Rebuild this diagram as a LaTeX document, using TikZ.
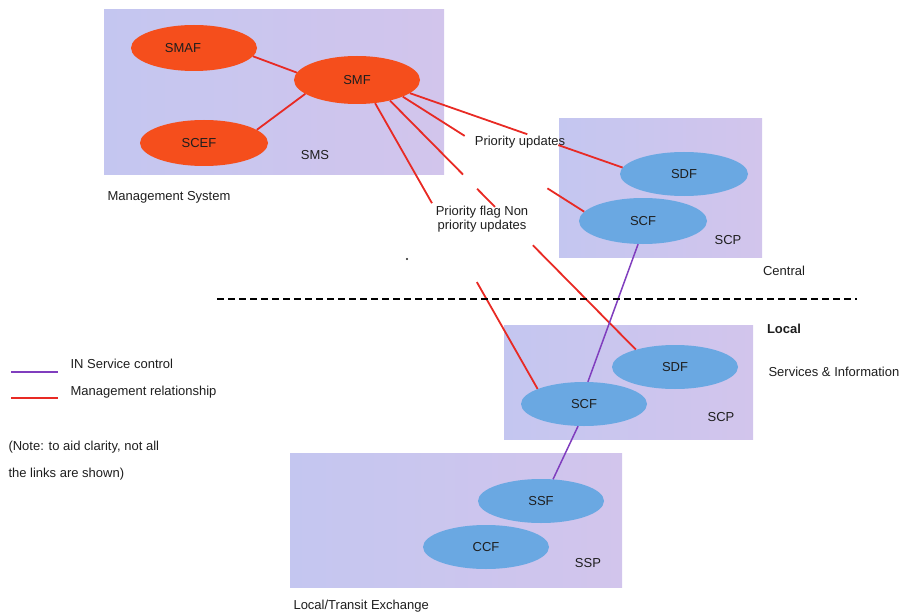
\documentclass[tikz,border=0pt]{standalone}
\usepackage{fontspec}
\setmainfont{Liberation Sans}
\usetikzlibrary{shapes.geometric,calc}

\definecolor{boxfillA}{RGB}{196,198,240}
\definecolor{boxfillB}{RGB}{210,197,236}
\definecolor{mgmtorange}{RGB}{245,78,28}
\definecolor{netblue}{RGB}{106,168,226}
\definecolor{mgmtred}{RGB}{232,42,36}
\definecolor{ctrlpurple}{RGB}{128,62,190}
\definecolor{labelgray}{RGB}{30,30,30}

\tikzset{
  every node/.style={font=\fontsize{13}{15}\selectfont, text=labelgray},
  areabox/.style={left color=boxfillA, right color=boxfillB, draw=none},
  fnorange/.style={ellipse, fill=mgmtorange, draw=none, inner sep=0pt},
  fnblue/.style={ellipse, fill=netblue, draw=none, inner sep=0pt},
  mgmtlink/.style={draw=mgmtred, line width=1.8pt},
  ctrllink/.style={draw=ctrlpurple, line width=1.5pt},
  boundary/.style={draw=black, line width=2pt, dash pattern=on 7pt off 4pt},
}

\begin{document}
\begin{tikzpicture}[x=1pt, y=-1pt]
\useasboundingbox (0,0) rectangle (908,615);

% areas
\fill[areabox] (104,10) rectangle (444,175);
\fill[areabox] (559,119) rectangle (762,257);
\fill[areabox] (504,325) rectangle (753,439);
\fill[areabox] (290,453) rectangle (622,587);

% management system functions
\node[fnorange, minimum width=126pt, minimum height=46pt] (smaf) at (194,48) {SMAF\hspace*{22pt}};
\node[fnorange, minimum width=126pt, minimum height=48pt] (smf) at (357,80) {SMF};
\node[fnorange, minimum width=128pt, minimum height=46pt] (scef) at (204,143) {SCEF\hspace*{10pt}};

% central SCP functions
\node[fnblue, minimum width=128pt, minimum height=44pt] (sdfC) at (684,174) {SDF};
\node[fnblue, minimum width=128pt, minimum height=46pt] (scfC) at (643,221) {SCF};

% local SCP functions
\node[fnblue, minimum width=126pt, minimum height=44pt] (sdfL) at (675,367) {SDF};
\node[fnblue, minimum width=126pt, minimum height=44pt] (scfL) at (584,404) {SCF};

% SSP functions
\node[fnblue, minimum width=126pt, minimum height=44pt] (ssf) at (541,501) {SSF};
\node[fnblue, minimum width=126pt, minimum height=44pt] (ccf) at (486,547) {CCF};

% area labels
\node (smsLbl) at (315,155) {SMS};
\node[anchor=west] (mgmtLbl) at (104,197) {Management System};
\node (scpCLbl) at (728,240) {SCP};
\node (centralLbl) at (784,271) {Central};
\node (localLbl) at (784,329) {\bfseries Local};
\node[anchor=west] (servLbl) at (765,372) {Services \& Information};
\node (scpLLbl) at (721,417) {SCP};
\node (sspLbl) at (588,563) {SSP};
\node[anchor=west] (exchLbl) at (290,606) {Local/Transit Exchange};

% link labels
\node (prioLbl) at (520,142) {Priority updates};
\node[align=center, inner sep=0pt] (nonprioLbl) at (482,219) {Priority flag Non\\[-1pt]priority updates};

% links inside the management system
\draw[mgmtlink] (smaf.-8) -- (smf.173);
\draw[mgmtlink] (scef.14) -- (smf.-165);

% SMF to central SDF (priority updates)
\coordinate (p1s) at (smf.-14);
\coordinate (p1e) at (sdfC.174);
\coordinate (g1a) at ($(p1s)!0.552!(p1e)$);
\coordinate (g1b) at ($(p1s)!0.698!(p1e)$);
\draw[mgmtlink] (smf.-14) -- (g1a);
\draw[mgmtlink] (g1b) -- (sdfC.174);

% SMF to central SCF
\coordinate (p2s) at (smf.-20);
\coordinate (p2e) at (scfC.171);
\coordinate (g2a) at ($(p2s)!0.341!(p2e)$);
\coordinate (g2b) at ($(p2s)!0.797!(p2e)$);
\draw[mgmtlink] (smf.-20) -- (g2a);
\draw[mgmtlink] (g2b) -- (scfC.171);

% SMF to local SDF
\coordinate (p3s) at (smf.-32);
\coordinate (p3e) at (sdfL.156);
\coordinate (g3a) at ($(p3s)!0.297!(p3e)$);
\coordinate (g3b) at ($(p3s)!0.354!(p3e)$);
\coordinate (g3c) at ($(p3s)!0.427!(p3e)$);
\coordinate (g3d) at ($(p3s)!0.581!(p3e)$);
\draw[mgmtlink] (smf.-32) -- (g3a);
\draw[mgmtlink] (g3b) -- (g3c);
\draw[mgmtlink] (g3d) -- (sdfL.156);

% SMF to local SCF
\coordinate (p4s) at (smf.-52);
\coordinate (p4e) at (scfL.162);
\coordinate (g4a) at ($(p4s)!0.35!(p4e)$);
\coordinate (g4b) at ($(p4s)!0.626!(p4e)$);
\draw[mgmtlink] (smf.-52) -- (g4a);
\draw[mgmtlink] (g4b) -- (scfL.162);

% service control
\draw[ctrllink] (scfC.-102) -- (scfL.80);
\draw[ctrllink] (scfL.-105) -- (ssf.61);

% central / local boundary
\coordinate (bL) at (217,299);
\coordinate (bR) at (857,299);
\draw[boundary] (bL) -- (bR);

% stray mark
\fill[labelgray] (407,259) circle (1.2pt);

% legend
\coordinate (lgA1) at (11,372);
\coordinate (lgA2) at (58,372);
\coordinate (lgB1) at (11,398);
\coordinate (lgB2) at (58,398);
\draw[ctrlpurple, line width=1.3pt] (lgA1) -- (lgA2);
\draw[mgmtred, line width=1.3pt] (lgB1) -- (lgB2);
\node[anchor=west] (lgAtxt) at (67,364) {IN Service control};
\node[anchor=west] (lgBtxt) at (67,392) {Management relationship};
\node[anchor=west] (note1) at (5,447) {(Note: to aid clarity, not all};
\node[anchor=west] (note2) at (5,474) {the links are shown)};
\end{tikzpicture}
\end{document}
